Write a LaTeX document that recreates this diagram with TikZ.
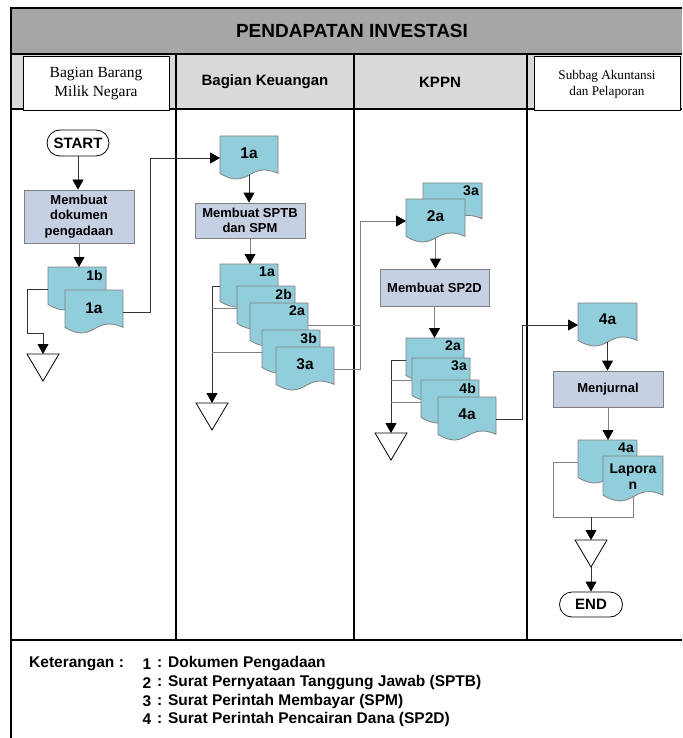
\documentclass[tikz,border=0pt]{standalone}
\usepackage{fontspec}
\setmainfont{Liberation Serif}
\setsansfont{Liberation Sans}
\usetikzlibrary{shapes.misc,arrows.meta,calc}
\definecolor{docfill}{RGB}{146,205,220}
\definecolor{procfill}{RGB}{198,208,227}
\definecolor{titlegray}{RGB}{166,166,166}
\definecolor{headgray}{RGB}{217,217,217}
\definecolor{linegray}{RGB}{128,128,128}
\newcommand{\docu}[5]{%
  \node[docnode,minimum width=#4pt,minimum height=#5pt] (#1) at (#2,#3) {};
  \path[docshape] (#1.north west) -- (#1.north east) -- ($(#1.south east)+(0,-0.15*#5)$)
    .. controls ($(#1.south)+(0,-0.45*#5)$) and ($(#1.south)+(0,0.25*#5)$) .. ($(#1.south west)+(0,-0.15*#5)$) -- cycle;
  \coordinate (#1-b) at ($(#1.south)+(0,-0.11*#5)$);
}
\newcommand{\tri}[3]{%
  \coordinate (#1) at (#2,#3);
  \coordinate (#1-a) at (#2,{#3+27});
  \draw[trishape] ($(#1)+(-16,0)$) -- ($(#1)+(16,0)$) -- (#1-a) -- cycle;
}
\begin{document}
\begin{tikzpicture}[x=1pt,y=-1pt,
  frame/.style={line width=2pt},
  hbox/.style={draw,line width=1pt,fill=white,minimum width=146pt,minimum height=54pt,align=center,inner sep=0pt},
  proc/.style={draw=linegray,line width=0.8pt,fill=procfill,align=center,inner sep=0pt,font=\sffamily\bfseries\fontsize{13}{15.5}\selectfont},
  term/.style={draw,line width=0.8pt,rounded rectangle,fill=white,inner sep=0pt,font=\sffamily\bfseries\fontsize{15}{17}\selectfont},
  docnode/.style={anchor=north west,inner sep=0pt,outer sep=0pt},
  docshape/.style={draw=linegray,line width=0.8pt,fill=docfill},
  dlab/.style={font=\sffamily\bfseries\fontsize{14}{16}\selectfont,inner sep=0pt},
  dlabc/.style={font=\sffamily\bfseries\fontsize{15.5}{17}\selectfont,inner sep=0pt},
  trishape/.style={draw,line width=0.8pt,fill=white},
  conn/.style={draw=black!80,line width=0.8pt,-{Triangle[length=10pt,width=11pt,color=black]}},
  conng/.style={draw=linegray,line width=0.8pt,-{Triangle[length=10pt,width=11pt,color=black]}},
  lk/.style={draw=black!80,line width=0.8pt},
  lg/.style={draw=linegray,line width=0.8pt},
  leg/.style={font=\sffamily\bfseries\fontsize{15.5}{18}\selectfont,inner sep=0pt}
]
\useasboundingbox (0,0) rectangle (682,738);
% ---------- frame and header ----------
\fill[titlegray] (11,8) rectangle (682,54);
\fill[headgray] (11,54) rectangle (682,109);
\draw[frame] (682,8) -- (11,8) -- (11,738);
\draw[frame] (11,54) -- (682,54);
\draw[frame] (11,109) -- (682,109);
\draw[frame] (11,640) -- (682,640);
\draw[frame] (176,54) -- (176,640);
\draw[frame] (354,54) -- (354,640);
\draw[frame] (527,54) -- (527,640);
\node[font=\sffamily\bfseries\fontsize{19}{22}\selectfont] (title) at (352,31) {PENDAPATAN INVESTASI};
\node[hbox,font=\fontsize{15.5}{19}\selectfont] (h1) at (96,84) {Bagian Barang\\Milik Negara};
\node[font=\sffamily\bfseries\fontsize{15}{17}\selectfont] (h2) at (265,82) {Bagian Keuangan};
\node[font=\sffamily\bfseries\fontsize{15}{17}\selectfont] (h3) at (440,82) {KPPN};
\node[hbox,font=\fontsize{13.2}{16}\selectfont] (h4) at (607,84) {Subbag Akuntansi\\dan Pelaporan};
% ---------- lane 1 ----------
\node[term,minimum width=62pt,minimum height=26pt] (start) at (78,143) {START};
\node[proc,minimum width=110pt,minimum height=53pt] (p1) at (79,216.5) {Membuat\\dokumen\\pengadaan};
\docu{a1b}{48}{267}{58}{44}
\node[dlab,anchor=north east] (a1b-l) at ($(a1b.north east)+(-3,3)$) {1b};
\docu{a1a}{65}{290}{58}{44}
\node[dlabc] (a1a-l) at ($(a1a.north)+(0,18)$) {1a};
\tri{t1}{43}{354}
\draw[conn] (start.south) -- (start.south |- p1.north);
\draw[conng] (p1.south) -- (p1.south |- a1b.north);
\draw[conn] (a1b.west) -- ++(-21,0) -- ++(0,44) -| (t1);
% ---------- lane 2 ----------
\docu{b1a}{220}{136}{58}{44}
\node[dlabc] (b1a-l) at ($(b1a.north)+(0,17)$) {1a};
\draw[conn] (a1a.east) -- ++(27,0) |- (b1a.west);
\node[proc,minimum width=110pt,minimum height=35pt] (p2) at (250,220.5) {Membuat SPTB\\dan SPM};
\draw[conn] (b1a-b) -- (b1a-b |- p2.north);
\docu{s1a}{220}{264}{58}{44}
\node[dlab,anchor=north east] (s1a-l) at ($(s1a.north east)+(-3,3)$) {1a};
\docu{s2b}{237}{286}{58}{44}
\node[dlab,anchor=north east] (s2b-l) at ($(s2b.north east)+(-3,3)$) {2b};
\docu{s2a}{250}{303}{58}{44}
\node[dlab,anchor=north east] (s2a-l) at ($(s2a.north east)+(-3,3)$) {2a};
\docu{s3b}{262}{330}{58}{44}
\node[dlab,anchor=north east] (s3b-l) at ($(s3b.north east)+(-3,3)$) {3b};
\docu{s3a}{276}{347}{58}{44}
\node[dlabc] (s3a-l) at ($(s3a.north)+(0,17)$) {3a};
\draw[conng] (p2.south) -- (p2.south |- s1a.north);
\tri{t2}{212}{403}
\draw[conn] (s1a.west) -| (t2);
\draw[lg] (s2b.west) -- (s2b.west -| t2);
\draw[lg] (s3b.west) -- (s3b.west -| t2);
% ---------- lane 3 ----------
\docu{c3a}{423}{183}{59}{42}
\node[dlab,anchor=north east] (c3a-l) at ($(c3a.north east)+(-3,3)$) {3a};
\docu{c2a}{406}{199}{59}{44}
\node[dlabc] (c2a-l) at ($(c2a.north)+(0,17)$) {2a};
\draw[conng] (s2a.east) -- ++(52,0) |- (c2a.west);
\draw[lg] (s3a.east) -| ($(s2a.east)+(52,0)$);
\node[proc,minimum width=109pt,minimum height=37pt] (p3) at (434.5,287.5) {Membuat SP2D};
\draw[conng] (c2a-b) -- (c2a-b |- p3.north);
\docu{k2a}{406}{338}{58}{44}
\node[dlab,anchor=north east] (k2a-l) at ($(k2a.north east)+(-3,3)$) {2a};
\docu{k3a}{412}{358}{58}{44}
\node[dlab,anchor=north east] (k3a-l) at ($(k3a.north east)+(-3,3)$) {3a};
\docu{k4b}{421}{380}{58}{44}
\node[dlab,anchor=north east] (k4b-l) at ($(k4b.north east)+(-3,3)$) {4b};
\docu{k4a}{438}{397}{58}{44}
\node[dlabc] (k4a-l) at ($(k4a.north)+(0,17)$) {4a};
\draw[conng] (p3.south) -- (p3.south |- k2a.north);
\tri{t3}{391}{433}
\draw[conn] (k2a.west) -| (t3);
\draw[lg] (k3a.west) -- (k3a.west -| t3);
\draw[lg] (k4b.west) -- (k4b.west -| t3);
% ---------- lane 4 ----------
\docu{d4a}{578}{303}{59}{44}
\node[dlabc] (d4a-l) at ($(d4a.north)+(0,16)$) {4a};
\draw[conn] (k4a.east) -- ++(26,0) |- (d4a.west);
\node[proc,minimum width=110pt,minimum height=36pt] (p4) at (608,389) {Menjurnal};
\draw[conn] (d4a-b) -- (d4a-b |- p4.north);
\docu{e4a}{578}{440}{59}{44}
\node[dlab,anchor=north east] (e4a-l) at ($(e4a.north east)+(-3,3)$) {4a};
\docu{lap}{603}{456}{60}{46}
\node[dlab,align=center] (lap-l) at ($(lap.north)+(0,21)$) {Lapora\\n};
\draw[conng] (p4.south) -- (p4.south |- e4a.north);
\coordinate (m4) at (591,517);
\tri{t4}{591}{540}
\draw[lg] (e4a.west) -- ++(-25,0) |- (m4);
\draw[lg] (lap-b) |- (m4);
\draw[conn] (m4) -- (t4);
\node[term,minimum width=63pt,minimum height=25pt] (end) at (591,604.5) {END};
\draw[conn] (t4-a) -- (end.north);
% ---------- legend ----------
\node[leg,anchor=west] (ket) at (29,664) {Keterangan :};
\node[leg] (n1) at (147,664) {1};
\node[leg,anchor=west] (l1) at (157,664) {: Dokumen Pengadaan};
\node[leg] (n2) at (147,683) {2};
\node[leg,anchor=west] (l2) at (157,683) {: Surat Pernyataan Tanggung Jawab (SPTB)};
\node[leg] (n3) at (147,701) {3};
\node[leg,anchor=west] (l3) at (157,701) {: Surat Perintah Membayar (SPM)};
\node[leg] (n4) at (147,719) {4};
\node[leg,anchor=west] (l4) at (157,719) {: Surat Perintah Pencairan Dana (SP2D)};
\end{tikzpicture}
\end{document}
